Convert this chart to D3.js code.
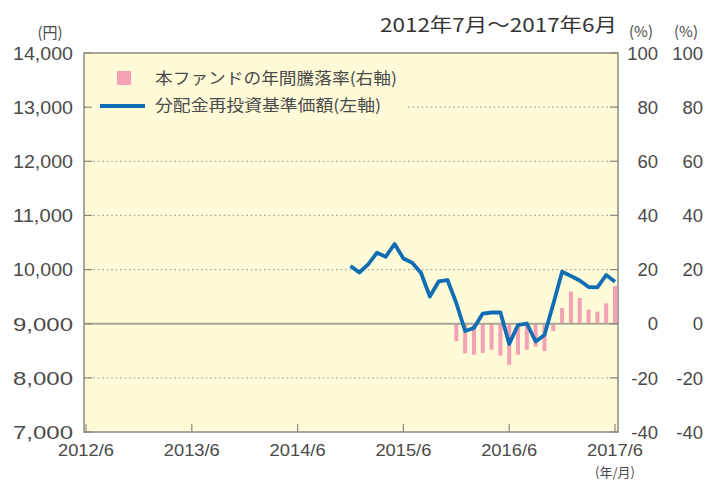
<!DOCTYPE html>
<html>
<head>
<meta charset="utf-8">
<script src="https://cdn.jsdelivr.net/npm/d3@7"></script>
<style>
  body { margin: 0; background: #fff; }
  svg { display: block; }
  .num { font-family: "Liberation Sans", Arial, sans-serif; fill: #4a4a4a; }
  .jp { font-family: "Noto Sans CJK JP", sans-serif; fill: #4a4a4a; }
</style>
</head>
<body>
<svg id="chart"></svg>
<script>
// month index counted from 2012/6 (= 0)
const xTickIdx = [0, 12, 24, 36, 48, 60];
const xTickLabels = ['2012/6', '2013/6', '2014/6', '2015/6', '2016/6', '2017/6'];
const leftTicks = [7000, 8000, 9000, 10000, 11000, 12000, 13000, 14000];
const rightTicks = [-40, -20, 0, 20, 40, 60, 80, 100];

// 分配金再投資基準価額, monthly from 2014/12 to 2017/6
const navStart = 30;
const navValues = [10066, 9946, 10097, 10311, 10238, 10472, 10204, 10127, 9936, 9502,
    9780, 9807, 9382, 8865, 8921, 9188, 9207, 9210, 8625, 8976,
    9004, 8671, 8791, 9364, 9960, 9881, 9798, 9678, 9673, 9900, 9776];

// 年間騰落率 (%), monthly from 2015/12 to 2017/6
const retStart = 42;
const retValues = [-6.5, -11.0, -11.5, -10.8, -9.6, -11.8, -15.2, -11.5, -9.6, -8.5,
    -10.1, -2.7, 5.8, 11.9, 9.5, 5.2, 4.5, 7.5, 13.9];

function drawChart() {
    const width = 707;
    const height = 482;
    const plot = { left: 84, right: 618, top: 53, bottom: 432 };

    const svg = d3.select('#chart')
        .attr('width', width)
        .attr('height', height);

    const x = d3.scaleLinear().domain([0, 60]).range([86, 615]);
    const yL = d3.scaleLinear().domain([7000, 14000]).range([plot.bottom, plot.top]);
    const yR = d3.scaleLinear().domain([-40, 100]).range([plot.bottom, plot.top]);

    // background
    svg.append('rect')
        .attr('x', plot.left).attr('y', plot.top)
        .attr('width', plot.right - plot.left)
        .attr('height', plot.bottom - plot.top)
        .attr('fill', '#fffbd8');

    // dotted grid lines
    svg.append('g')
        .selectAll('line')
        .data(leftTicks.filter(d => d !== 7000 && d !== 14000 && d !== 9000))
        .join('line')
        .attr('x1', plot.left).attr('x2', plot.right)
        .attr('y1', d => yL(d)).attr('y2', d => yL(d))
        .attr('stroke', '#b9b6a2')
        .attr('stroke-width', 1.2)
        .attr('stroke-dasharray', '2,2.5');

    // legend box hides the grid behind it
    const lg = svg.append('g');
    lg.append('rect')
        .attr('x', plot.left + 2).attr('y', 62)
        .attr('width', 320).attr('height', 54)
        .attr('fill', '#fffbd8');

    // bars
    svg.append('g')
        .selectAll('rect')
        .data(retValues)
        .join('rect')
        .attr('x', (d, i) => x(retStart + i) - 2)
        .attr('width', 4)
        .attr('y', d => yR(Math.max(0, d)))
        .attr('height', d => Math.abs(yR(d) - yR(0)))
        .attr('fill', '#f4a1b5');

    // zero line
    svg.append('line')
        .attr('x1', plot.left).attr('x2', plot.right)
        .attr('y1', yL(9000)).attr('y2', yL(9000))
        .attr('stroke', '#a9a693')
        .attr('stroke-width', 2);

    // NAV line
    svg.append('path')
        .datum(navValues)
        .attr('fill', 'none')
        .attr('stroke', '#0f6db4')
        .attr('stroke-width', 3.8)
        .attr('stroke-linejoin', 'round')
        .attr('d', d3.line()
            .x((d, i) => x(navStart + i))
            .y(d => yL(d)));

    // inner ticks
    const tickLen = 8;
    const ticks = svg.append('g').attr('stroke', '#8c8a80').attr('stroke-width', 1.2);
    ticks.selectAll('.tl')
        .data(leftTicks)
        .join('line')
        .attr('x1', plot.left).attr('x2', plot.left + tickLen)
        .attr('y1', d => yL(d)).attr('y2', d => yL(d));
    ticks.selectAll('.tr')
        .data(rightTicks)
        .join('line')
        .attr('x1', plot.right - tickLen).attr('x2', plot.right)
        .attr('y1', d => yR(d)).attr('y2', d => yR(d));
    ticks.selectAll('.tb')
        .data(xTickIdx)
        .join('line')
        .attr('x1', d => x(d)).attr('x2', d => x(d))
        .attr('y1', plot.bottom).attr('y2', plot.bottom - tickLen);

    // frame
    svg.append('rect')
        .attr('x', plot.left).attr('y', plot.top)
        .attr('width', plot.right - plot.left)
        .attr('height', plot.bottom - plot.top)
        .attr('fill', 'none')
        .attr('stroke', '#8c8a80')
        .attr('stroke-width', 1.5);

    // left axis labels
    svg.append('g')
        .selectAll('text')
        .data(leftTicks)
        .join('text')
        .attr('class', 'num')
        .attr('x', 73)
        .attr('y', d => yL(d))
        .attr('dy', '0.36em')
        .attr('text-anchor', 'end')
        .style('font-size', '19px')
        .attr('textLength', 60)
        .attr('lengthAdjust', 'spacingAndGlyphs')
        .text(d => d3.format(',')(d));

    // right axis labels (two columns)
    [658, 703].forEach(cx => {
        svg.append('g')
            .selectAll('text')
            .data(rightTicks)
            .join('text')
            .attr('class', 'num')
            .attr('x', cx)
            .attr('y', d => yR(d))
            .attr('dy', '0.36em')
            .attr('text-anchor', 'end')
            .style('font-size', '18.5px')
            .text(d => d);
        svg.append('text')
            .attr('class', 'jp')
            .attr('x', cx - 17)
            .attr('y', 37)
            .attr('text-anchor', 'middle')
            .style('font-size', '15px')
            .text('(%)');
    });

    // unit labels
    svg.append('text')
        .attr('class', 'jp')
        .attr('x', 50).attr('y', 38)
        .attr('text-anchor', 'middle')
        .style('font-size', '15px')
        .text('(円)');

    // x labels
    svg.append('g')
        .selectAll('text')
        .data(xTickIdx)
        .join('text')
        .attr('class', 'num')
        .attr('x', d => x(d))
        .attr('y', 456)
        .attr('text-anchor', 'middle')
        .style('font-size', '16px')
        .attr('textLength', 56)
        .attr('lengthAdjust', 'spacingAndGlyphs')
        .text((d, i) => xTickLabels[i]);

    svg.append('text')
        .attr('class', 'jp')
        .attr('x', x(60)).attr('y', 477)
        .attr('text-anchor', 'middle')
        .style('font-size', '13px')
        .text('(年/月)');

    // title
    svg.append('text')
        .attr('class', 'jp')
        .attr('x', 617).attr('y', 32)
        .attr('text-anchor', 'end')
        .style('font-size', '19px')
        .style('fill', '#333')
        .attr('textLength', 237)
        .attr('lengthAdjust', 'spacingAndGlyphs')
        .text('2012年7月～2017年6月');

    // legend
    lg.append('rect')
        .attr('x', 117).attr('y', 71)
        .attr('width', 14).attr('height', 14)
        .attr('fill', '#f4a1b5');
    lg.append('text')
        .attr('class', 'jp')
        .attr('x', 155).attr('y', 78)
        .attr('dy', '0.36em')
        .style('font-size', '16px')
        .attr('textLength', 242)
        .attr('lengthAdjust', 'spacingAndGlyphs')
        .text('本ファンドの年間騰落率(右軸)');
    lg.append('line')
        .attr('x1', 100).attr('x2', 145)
        .attr('y1', 106).attr('y2', 106)
        .attr('stroke', '#0f6db4')
        .attr('stroke-width', 3.8);
    lg.append('text')
        .attr('class', 'jp')
        .attr('x', 155).attr('y', 105)
        .attr('dy', '0.36em')
        .style('font-size', '16px')
        .attr('textLength', 226)
        .attr('lengthAdjust', 'spacingAndGlyphs')
        .text('分配金再投資基準価額(左軸)');
}

window.addEventListener('load', drawChart);
</script>
</body>
</html>
